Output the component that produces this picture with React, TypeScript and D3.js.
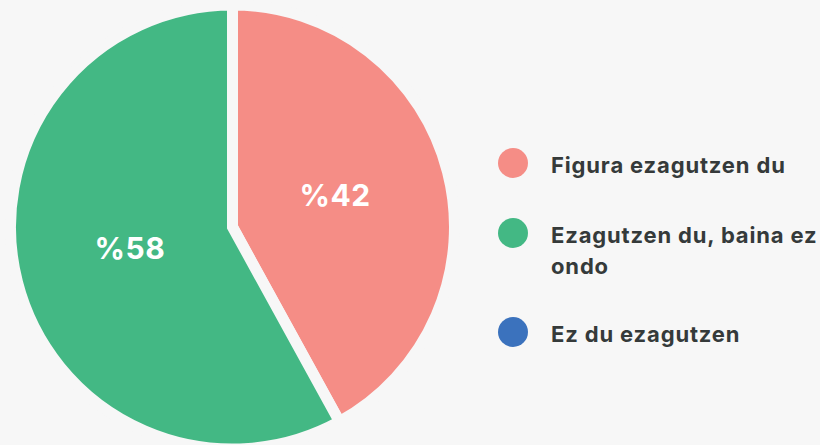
import React from "react";
import * as d3 from "d3";

const categories = ["Figura ezagutzen du", "Ezagutzen du, baina ez ondo", "Ez du ezagutzen"];
const values = [42, 58, 0];
const colors = ["#f58d86", "#43b884", "#3b72bd"];
const legendLines = [["Figura ezagutzen du"], ["Ezagutzen du, baina ez", "ondo"], ["Ez du ezagutzen"]];

const W = 820;
const H = 445;
const cx = 232.5;
const cy = 227;
const R = 222;

export default function App() {
  const pie = d3.pie<number>().sort(null).value((d) => d);
  const arcs = pie(values);
  const arc = d3.arc<d3.PieArcDatum<number>>().innerRadius(0).outerRadius(R);
  const labelArc = d3.arc<d3.PieArcDatum<number>>().innerRadius(106).outerRadius(106);
  const legendY = [163, 233, 332];
  return (
    <div style={{ position: "fixed", left: 0, top: 0, width: W, height: H, background: "#f7f7f7" }}>
      <svg width={W} height={H} style={{ display: "block" }}>
        <rect width={W} height={H} fill="#f7f7f7" />
        <g transform={`translate(${cx},${cy})`}>
          {arcs.map((a, i) =>
            a.value > 0 ? (
              <path key={i} d={arc(a) || ""} fill={colors[i]} stroke="#f7f7f7" strokeWidth={11} strokeLinejoin="miter" />
            ) : null
          )}
          {arcs.map((a, i) => {
            if (a.value <= 0) return null;
            const [x, y] = labelArc.centroid(a);
            return (
              <text key={i} x={x} y={y} dy="0.18em" textAnchor="middle" fill="#ffffff"
                style={{ fontFamily: "Inter, 'Noto Sans', sans-serif", fontWeight: 700, fontSize: 30, letterSpacing: 0.5 }}>
                {"%" + a.value}
              </text>
            );
          })}
        </g>
        {categories.map((c, i) => (
          <g key={c}>
            <circle cx={513} cy={legendY[i]} r={15} fill={colors[i]} />
            <text x={551} y={legendY[i] + 10} fill="#353a3a"
              style={{ fontFamily: "Inter, 'Noto Sans', sans-serif", fontWeight: 700, fontSize: 22, letterSpacing: 0.85 }}>
              {legendLines[i].map((l, j) => (
                <tspan key={j} x={551} dy={j === 0 ? 0 : 31}>{l}</tspan>
              ))}
            </text>
          </g>
        ))}
      </svg>
    </div>
  );
}
